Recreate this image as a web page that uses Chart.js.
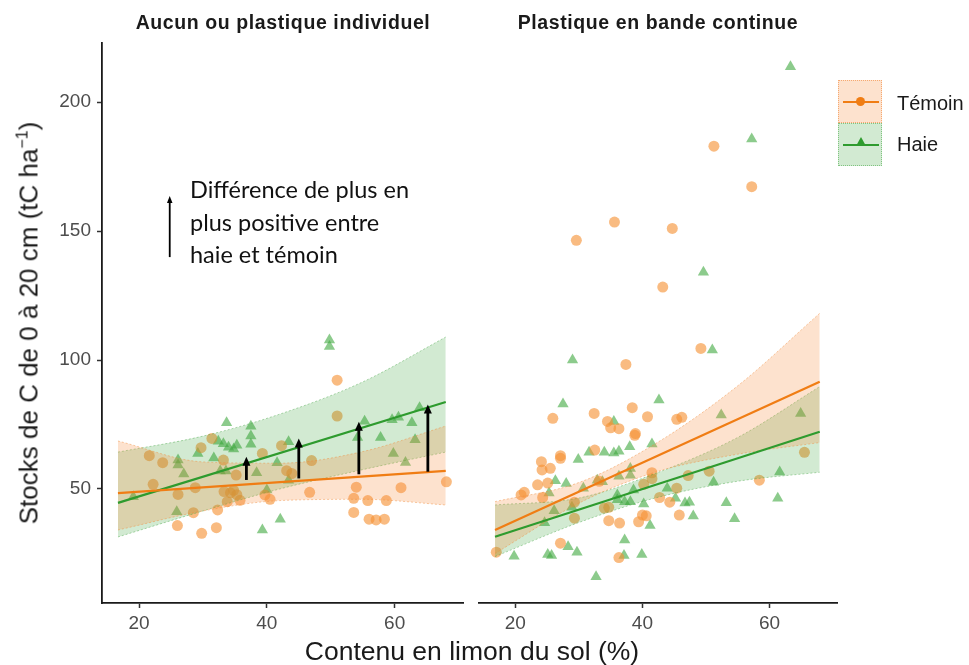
<!DOCTYPE html>
<html><head><meta charset="utf-8">
<script src="https://cdn.jsdelivr.net/npm/chart.js@4"></script>
<style>
body{margin:0;background:#fff;width:969px;height:665px;position:relative;overflow:hidden;font-family:"Liberation Sans",Arial,sans-serif;color:#1a1a1a}
.abs{position:absolute;white-space:nowrap}
.ptitle{font-weight:bold;font-size:19.5px;letter-spacing:0.6px;transform:translate(-50%,-50%);top:22px;color:#1a1a1a}
.key{position:absolute;width:44px;height:43px;box-sizing:border-box}
.key .ln{position:absolute;left:4px;width:36px;top:20px;height:2px}
</style></head><body>
<canvas id="c1" width="472" height="665" class="abs" style="left:0;top:0"></canvas>
<canvas id="c2" width="372" height="665" class="abs" style="left:472px;top:0"></canvas>

<div class="abs ptitle" style="left:283px">Aucun ou plastique individuel</div>
<div class="abs ptitle" style="left:658px">Plastique en bande continue</div>
<div class="abs" style="left:29px;top:323px;font-size:26px;transform:translate(-50%,-50%) rotate(-90deg)">Stocks de C de 0 à 20 cm (tC ha<sup style="font-size:16px">−1</sup>)</div>
<div class="abs" style="left:472px;top:651px;font-size:26.5px;transform:translate(-50%,-50%)">Contenu en limon du sol (%)</div>
<div class="abs" style="left:190px;top:173px;font-family:Lato,'Open Sans',sans-serif;font-size:23.5px;line-height:32.5px;color:#111">Différence de plus en<br>plus positive entre<br>haie et témoin</div>

<div class="key" style="left:838px;top:80px;background:rgba(247,140,60,0.25);border:1px dotted rgba(240,130,50,0.6)">
  <div class="ln" style="background:#f07d14"></div>
  <div style="position:absolute;left:17px;top:16px;width:9px;height:9px;border-radius:50%;background:#f07d14"></div>
</div>
<div class="key" style="left:838px;top:123px;background:rgba(50,160,50,0.22);border:1px dotted rgba(50,160,50,0.5)">
  <div class="ln" style="background:#2e9b2e"></div>
  <div style="position:absolute;left:17px;top:13px;width:0;height:0;border-left:5px solid transparent;border-right:5px solid transparent;border-bottom:9px solid #2e9b2e"></div>
</div>
<div class="abs" style="left:897px;top:103px;font-size:20px;transform:translateY(-50%)">Témoin</div>
<div class="abs" style="left:897px;top:144px;font-size:20px;transform:translateY(-50%)">Haie</div>

<script>
// ---------- data ----------
const xTicks = [20, 40, 60];
const yTicks = [50, 100, 150, 200];

// Panel 1 : Aucun ou plastique individuel
const p1TemoinX = [21.6,23.7,22.2,26.1,26.0,28.5,29.8,32.1,32.3,28.8,29.7,31.4,33.2,33.3,34.3,34.8,35.3,33.8,35.8,35.2,39.3,42.3,39.7,40.5,43.1,43.9,46.7,47.0,51.0,51.0,54.0,53.6,53.6,55.8,56.0,57.1,58.4,58.7,61.0,68.1];
const p1TemoinY = [62.9,60.2,51.8,47.9,35.8,40.8,32.8,35.0,41.9,50.5,66.0,69.6,61.2,49.0,48.5,49.5,47.8,45.1,45.6,55.4,63.8,66.8,47.7,46.0,57.1,56.0,48.7,61.0,92.2,78.3,50.7,46.4,40.9,45.5,38.3,38.0,38.3,45.5,50.5,52.8];
const p1HaieX = [19.1,26.1,26.1,25.9,27.0,29.2,31.7,33.7,32.4,33.2,34.0,34.8,35.3,32.7,33.6,37.5,37.5,37.5,38.4,40.0,39.3,42.1,41.6,43.4,43.4,49.8,49.8,54.2,55.3,57.8,59.6,60.6,62.7,63.2,59.8,61.7,63.9];
const p1HaieY = [47.0,61.2,59.3,41.2,55.8,63.8,62.0,75.7,68.5,67.5,66.2,65.5,67.0,57.0,57.0,74.3,70.5,67.3,56.3,49.6,34.1,38.3,60.2,68.3,53.4,107.8,105.2,70.0,76.3,70.0,76.8,77.8,75.7,69.1,63.8,60.3,81.5];

// Panel 2 : Plastique en bande continue
const p2TemoinX = [51.25,57.2,35.6,44.7,29.6,43.2,49.2,37.4,25.9,32.4,38.4,40.8,45.4,46.2,34.5,35.0,36.3,38.8,38.9,32.5,27.1,27.1,24.1,24.2,25.5,23.5,25.1,20.9,21.4,24.3,29.3,29.3,27.1,17.0,36.3,34.0,34.7,34.7,36.4,40.0,40.6,39.4,41.5,41.5,40.2,42.7,44.3,45.4,45.8,47.2,50.5,58.4,65.5,33.2];
const p2TemoinY = [182.9,167.2,153.5,151.0,146.4,128.3,104.5,98.3,77.4,79.3,81.5,78.0,77.0,77.8,76.2,73.7,73.4,70.8,71.5,65.1,62.9,61.9,60.6,57.4,58.0,51.6,52.3,47.7,48.7,46.7,44.9,38.7,29.0,25.5,23.4,42.6,42.9,37.7,36.8,39.9,39.6,37.3,56.3,54.0,51.8,46.7,44.9,50.3,39.9,55.2,56.9,53.4,64.2,53.0];
const p2HaieX = [63.3,57.2,49.6,29.0,27.5,42.6,51.0,52.4,64.9,35.5,31.6,34.0,35.5,36.3,38.0,41.5,29.9,26.3,28.0,25.3,32.9,33.7,36.3,38.1,38.1,30.7,36.05,36.05,37.2,38.1,38.6,40.2,43.9,45.2,46.7,47.4,48.0,51.2,53.2,54.5,61.6,61.3,24.6,26.1,28.3,29.7,25.1,25.7,19.8,37.2,37.1,39.9,41.2,32.7,28.9];
const p2HaieY = [213.7,185.7,134.0,100.0,82.9,84.5,103.9,78.7,79.3,76.2,64.2,64.2,64.0,64.6,66.4,67.4,61.4,53.2,52.1,48.4,53.4,52.8,54.9,57.9,55.3,50.3,47.7,45.8,45.1,45.1,49.6,44.2,50.3,46.4,44.6,44.9,39.5,52.6,44.7,38.5,56.6,46.4,36.9,41.6,27.6,25.5,24.6,24.2,23.9,30.2,24.2,24.6,35.8,16.0,42.9];

// fitted lines (end points)
const line1X = [16.7, 68];
const p1TemoinLine = [48.4, 57.0];
const p1HaieLine   = [44.6, 83.7];
const line2X = [16.8, 67.9];
const p2TemoinLine = [34.1, 91.6];
const p2HaieLine   = [31.5, 72.2];

// confidence bands
const band1X = [16.7, 30, 42, 55, 68];
const p1TemoinHi = [68.6, 60.5, 60.0, 64.5, 74.4];
const p1TemoinLo = [34.1, 41.5, 45.5, 46.0, 43.8];
const p1HaieHi   = [64.3, 70.5, 79.0, 91.5, 108.9];
const p1HaieLo   = [31.4, 41.5, 50.0, 57.5, 64.3];

const band2X = [16.8, 30, 42, 55, 67.9];
const p2TemoinHi = [45.1, 52.5, 67.5, 90.0, 118.1];
const p2TemoinLo = [25.0, 44.5, 56.5, 63.5, 68.0];
const p2HaieHi   = [43.8, 46.5, 56.0, 70.0, 89.7];
const p2HaieLo   = [23.8, 37.0, 46.5, 53.0, 56.5];

// difference arrows (panel 1)
const arrowX    = [36.8, 45.0, 54.4, 65.2];
const arrowFrom = [53.5, 54.1, 55.7, 56.7];
const arrowTo   = [62.5, 69.6, 76.1, 82.8];
// annotation arrow (panel 1)
const noteArrowX = [24.8];
const noteArrowFrom = [139.9];
const noteArrowTo = [163.6];

// ---------- styling ----------
const ORANGE = '#f07d14', GREEN = '#2e9b2e';
const X_MIN = 14.2, X_MAX = 70.7, Y_MIN = 5.8, Y_MAX = 222.9;
const pts = (xs, ys) => xs.map((x, i) => ({x, y: ys[i]}));

function buildDatasets(lx, tLine, hLine, bx, tHi, tLo, hHi, hLo, tX, tY, hX, hY) {
  const band = (ys, col, brd, fill) => ({
    type: 'line', data: pts(bx, ys), borderColor: brd, borderWidth: 1, borderDash: [2, 2],
    pointRadius: 0, fill: fill, backgroundColor: col, cubicInterpolationMode: 'monotone', order: 2
  });
  return [
    {type: 'scatter', data: pts(tX, tY), pointStyle: 'circle', pointRadius: 5.5, pointBorderWidth: 0,
      backgroundColor: 'rgba(246,146,52,0.62)', order: 4},
    {type: 'scatter', data: pts(hX, hY), pointStyle: 'triangle', pointRadius: 6.5, pointBorderWidth: 0,
      backgroundColor: 'rgba(64,168,64,0.6)', order: 4},
    band(tHi, 'rgba(247,140,60,0.25)', 'rgba(240,140,60,0.45)', '+1'),
    band(tLo, 'rgba(0,0,0,0)', 'rgba(240,140,60,0.45)', false),
    band(hHi, 'rgba(50,160,50,0.22)', 'rgba(60,160,60,0.4)', '+1'),
    band(hLo, 'rgba(0,0,0,0)', 'rgba(60,160,60,0.4)', false),
    {type: 'line', data: pts(lx, tLine), borderColor: ORANGE, borderWidth: 2.2, pointRadius: 0, fill: false, order: 1},
    {type: 'line', data: pts(lx, hLine), borderColor: GREEN, borderWidth: 2.2, pointRadius: 0, fill: false, order: 1}
  ];
}

function drawArrow(ctx, x, y0, y1, lw, hw, hl) {
  ctx.beginPath(); ctx.moveTo(x, y0); ctx.lineTo(x, y1 + hl * 0.6); ctx.lineWidth = lw; ctx.strokeStyle = '#000'; ctx.stroke();
  ctx.beginPath(); ctx.moveTo(x, y1); ctx.lineTo(x - hw / 2, y1 + hl); ctx.lineTo(x + hw / 2, y1 + hl); ctx.closePath();
  ctx.fillStyle = '#000'; ctx.fill();
}

const arrowPlugin = {
  id: 'diffArrows',
  afterDatasetsDraw(chart) {
    const {ctx, scales: {x, y}} = chart;
    ctx.save();
    arrowX.forEach((v, i) => {
      drawArrow(ctx, x.getPixelForValue(v), y.getPixelForValue(arrowFrom[i]), y.getPixelForValue(arrowTo[i]), 2.8, 8, 9);
    });
    noteArrowX.forEach((v, i) => {
      drawArrow(ctx, x.getPixelForValue(v), y.getPixelForValue(noteArrowFrom[i]), y.getPixelForValue(noteArrowTo[i]), 1.8, 5.5, 7);
    });
    ctx.restore();
  }
};

const TICK_FONT = {family: 'Liberation Sans', size: 19};

function xScale() {
  return {
    type: 'linear', min: X_MIN, max: X_MAX,
    afterBuildTicks: s => { s.ticks = xTicks.map(v => ({value: v})); },
    afterFit: s => { s.height = 62; },
    grid: {display: true, drawOnChartArea: false, drawTicks: true, tickLength: 5, tickWidth: 1.5, tickColor: '#333'},
    border: {display: true, color: '#1a1a1a', width: 1.8},
    ticks: {color: '#4d4d4d', font: TICK_FONT, padding: 4, maxRotation: 0}
  };
}

function makeChart(id, showY, datasets, plugins, pad) {
  return new Chart(document.getElementById(id), {
    type: 'scatter',
    data: {datasets},
    plugins,
    options: {
      responsive: false, animation: false, maintainAspectRatio: false,
      layout: {padding: pad},
      plugins: {legend: {display: false}, tooltip: {enabled: false}},
      scales: {
        x: xScale(),
        y: {
          type: 'linear', min: Y_MIN, max: Y_MAX, display: showY,
          afterBuildTicks: s => { s.ticks = yTicks.map(v => ({value: v})); },
          afterFit: s => { s.width = showY ? 102 : 0; },
          grid: {display: true, drawOnChartArea: false, drawTicks: true, tickLength: 5, tickWidth: 1.5, tickColor: '#333'},
          border: {display: true, color: '#1a1a1a', width: 1.8},
          ticks: {color: '#4d4d4d', font: TICK_FONT, padding: 6}
        }
      }
    }
  });
}

makeChart('c1', true,
  buildDatasets(line1X, p1TemoinLine, p1HaieLine, band1X, p1TemoinHi, p1TemoinLo, p1HaieHi, p1HaieLo, p1TemoinX, p1TemoinY, p1HaieX, p1HaieY),
  [arrowPlugin], {left: 0, top: 43, right: 9, bottom: 0});
makeChart('c2', false,
  buildDatasets(line2X, p2TemoinLine, p2HaieLine, band2X, p2TemoinHi, p2TemoinLo, p2HaieHi, p2HaieLo, p2TemoinX, p2TemoinY, p2HaieX, p2HaieY),
  [], {left: 5, top: 43, right: 5, bottom: 0});
</script>
</body></html>
